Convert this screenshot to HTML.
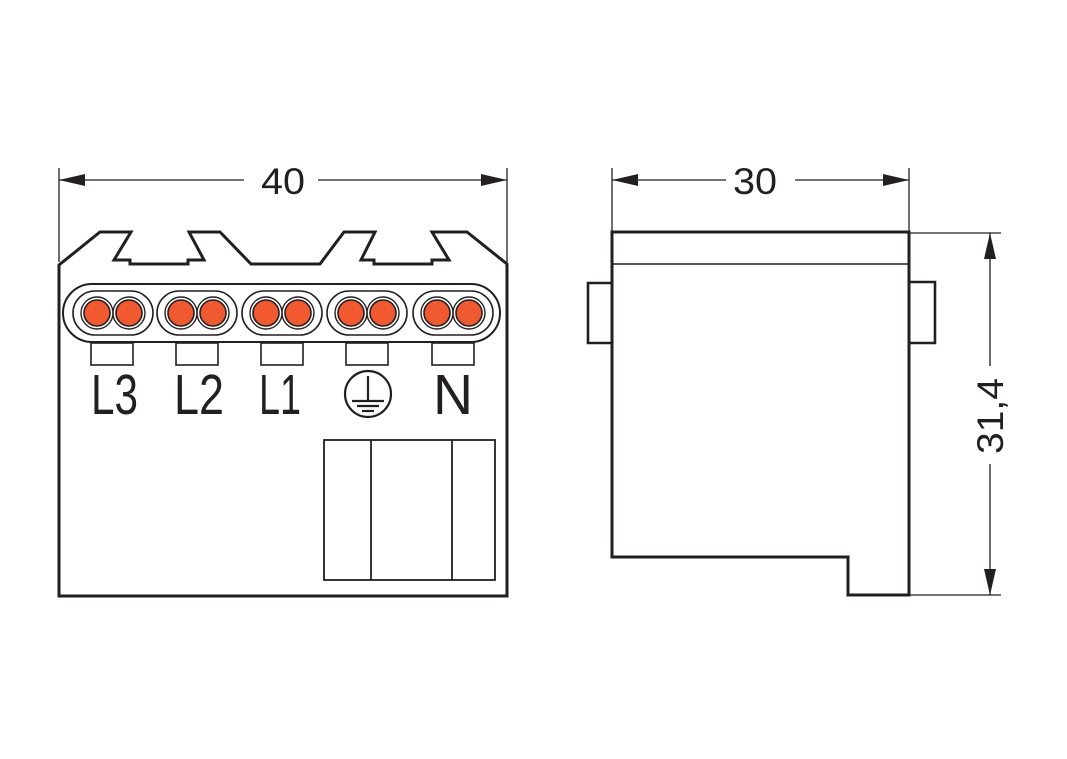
<!DOCTYPE html>
<html><head><meta charset="utf-8"><style>
html,body{margin:0;padding:0;background:#fff;}
svg{display:block;}
text{font-family:"Liberation Sans",sans-serif;fill:#231f20;}
</style></head><body>
<svg width="1067" height="759" viewBox="0 0 1067 759" xmlns="http://www.w3.org/2000/svg">
<g stroke="#231f20" fill="none">
<line x1="59" y1="168" x2="59" y2="262" stroke-width="1.3"/>
<line x1="507" y1="168" x2="507" y2="262" stroke-width="1.3"/>
<line x1="59" y1="180" x2="244" y2="180" stroke-width="1.3"/>
<line x1="318" y1="180" x2="507" y2="180" stroke-width="1.3"/>
<path d="M59,596 L59,265 L100,232 L131,232 L114,260 L130,260 L130,264 L188,264 L188,260 L204,260 L189,232 L220,232 L251,264 L320,264 L344,232 L375,232 L361,260 L374,260 L374,264 L432,264 L432,260 L449,260 L432,232 L467,232 L507,264 L507,596 Z" stroke-width="3" stroke-linejoin="miter"/>
<rect x="63" y="284" width="437" height="58" rx="29" ry="29" stroke-width="2"/>
<g stroke-width="1.6">
<rect x="73" y="291" width="80" height="44" rx="22"/>
<rect x="157" y="291" width="80" height="44" rx="22"/>
<rect x="242" y="291" width="80" height="44" rx="22"/>
<rect x="327" y="291" width="80" height="44" rx="22"/>
<rect x="413" y="291" width="80" height="44" rx="22"/>
<rect x="91" y="343" width="42" height="22"/>
<rect x="176" y="343" width="42" height="22"/>
<rect x="261" y="343" width="42" height="22"/>
<rect x="346" y="343" width="42" height="22"/>
<rect x="432" y="343" width="42" height="22"/>
</g>
<g stroke-width="1.4">
<circle cx="97" cy="313" r="16"/><circle cx="129" cy="313" r="16"/>
<circle cx="181" cy="313" r="16"/><circle cx="213" cy="313" r="16"/>
<circle cx="266" cy="313" r="16"/><circle cx="298" cy="313" r="16"/>
<circle cx="351" cy="313" r="16"/><circle cx="383" cy="313" r="16"/>
<circle cx="437" cy="313" r="16"/><circle cx="469" cy="313" r="16"/>
</g>
<g stroke-width="1.6" fill="#f15a31">
<circle cx="97" cy="313" r="13"/><circle cx="129" cy="313" r="13"/>
<circle cx="181" cy="313" r="13"/><circle cx="213" cy="313" r="13"/>
<circle cx="266" cy="313" r="13"/><circle cx="298" cy="313" r="13"/>
<circle cx="351" cy="313" r="13"/><circle cx="383" cy="313" r="13"/>
<circle cx="437" cy="313" r="13"/><circle cx="469" cy="313" r="13"/>
</g>
<circle cx="368" cy="394" r="23" stroke-width="2.2"/>
<line x1="368" y1="376" x2="368" y2="400" stroke-width="2.2"/>
<line x1="352" y1="401" x2="384" y2="401" stroke-width="2.2"/>
<line x1="357" y1="406" x2="379" y2="406" stroke-width="2.2"/>
<line x1="362" y1="411" x2="374" y2="411" stroke-width="2.2"/>
<rect x="324" y="440" width="171" height="140" stroke-width="1.8"/>
<line x1="371" y1="440" x2="371" y2="580" stroke-width="1.8"/>
<line x1="452" y1="440" x2="452" y2="580" stroke-width="1.8"/>
<line x1="612" y1="168" x2="612" y2="232" stroke-width="1.3"/>
<line x1="909" y1="168" x2="909" y2="232" stroke-width="1.3"/>
<line x1="612" y1="180" x2="726" y2="180" stroke-width="1.3"/>
<line x1="795" y1="180" x2="909" y2="180" stroke-width="1.3"/>
<line x1="909" y1="233" x2="1001" y2="233" stroke-width="1.3"/>
<line x1="909" y1="595" x2="1001" y2="595" stroke-width="1.3"/>
<line x1="990" y1="233" x2="990" y2="366" stroke-width="1.3"/>
<line x1="990" y1="464" x2="990" y2="595" stroke-width="1.3"/>
<path d="M612,232 L909,232 L909,595 L848,595 L848,557 L612,557 Z" stroke-width="3"/>
<line x1="612" y1="264" x2="909" y2="264" stroke-width="1.6"/>
<path d="M612,283 L588,283 L588,343 L612,343" stroke-width="2.6"/>
<path d="M909,282 L935,282 L935,343 L909,343" stroke-width="2.6"/>
</g>
<g fill="#231f20">
<polygon points="59,180 85,174 85,186"/>
<polygon points="507,180 481,174 481,186"/>
<polygon points="612,180 638,174 638,186"/>
<polygon points="909,180 883,174 883,186"/>
<polygon points="990,233 984,259 996,259"/>
<polygon points="990,595 984,569 996,569"/>
</g>
<text x="283" y="194" font-size="37" text-anchor="middle" textLength="44" lengthAdjust="spacingAndGlyphs">40</text>
<text x="755" y="194" font-size="37" text-anchor="middle" textLength="44" lengthAdjust="spacingAndGlyphs">30</text>
<text transform="translate(1003,416) rotate(-90)" font-size="37" text-anchor="middle" textLength="76" lengthAdjust="spacingAndGlyphs">31,4</text>
<g font-size="57">
<text x="91" y="414" textLength="47" lengthAdjust="spacingAndGlyphs">L3</text>
<text x="174" y="414" textLength="50" lengthAdjust="spacingAndGlyphs">L2</text>
<text x="259" y="414" textLength="42" lengthAdjust="spacingAndGlyphs">L1</text>
<text x="433" y="414" textLength="40" lengthAdjust="spacingAndGlyphs">N</text>
</g>
</svg>
</body></html>
